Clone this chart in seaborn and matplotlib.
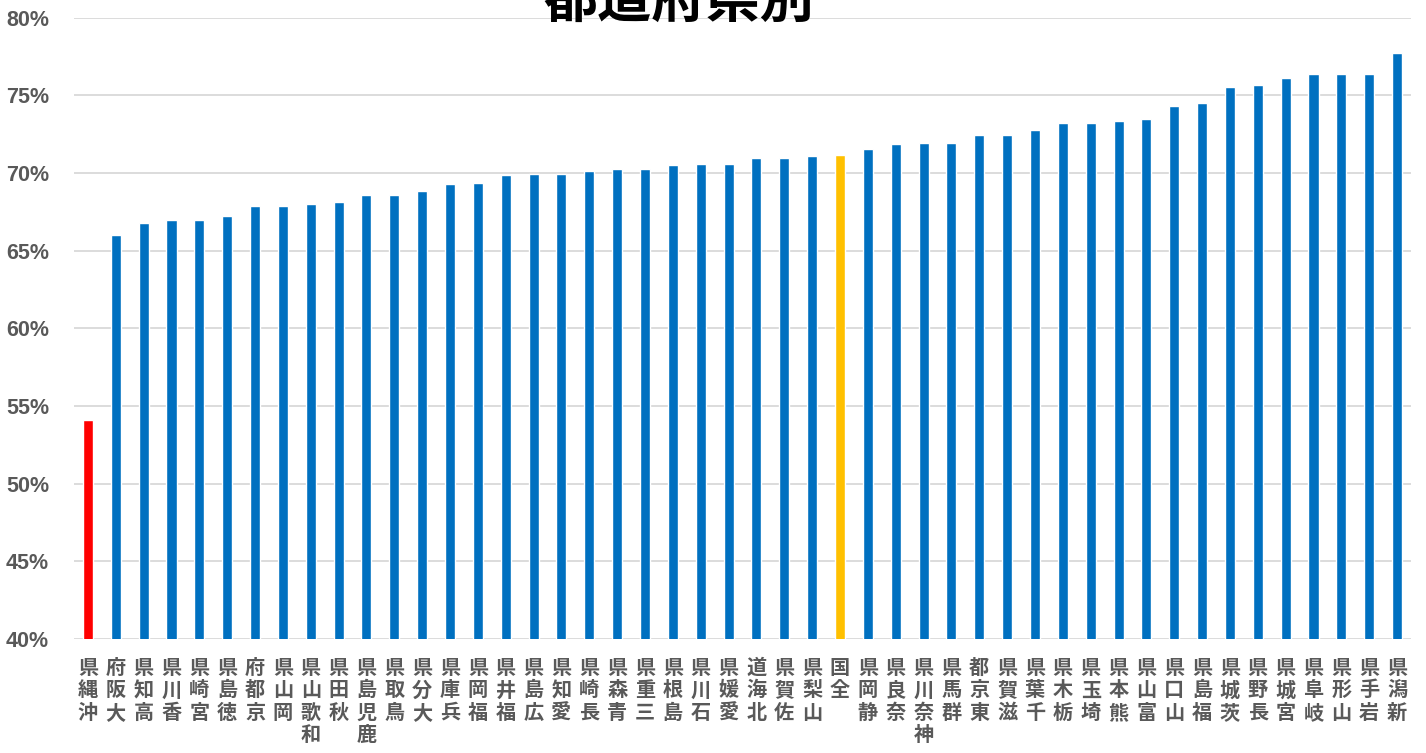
import matplotlib
matplotlib.use("Agg")
import matplotlib.pyplot as plt
import seaborn as sns
import pandas as pd
from matplotlib.ticker import FuncFormatter

names = ["沖縄県", "大阪府", "高知県", "香川県", "宮崎県", "徳島県", "京都府", "岡山県",
         "和歌山県", "秋田県", "鹿児島県", "鳥取県", "大分県", "兵庫県", "福岡県", "福井県",
         "広島県", "愛知県", "長崎県", "青森県", "三重県", "島根県", "石川県", "愛媛県",
         "北海道", "佐賀県", "山梨県", "全国", "静岡県", "奈良県", "神奈川県", "群馬県",
         "東京都", "滋賀県", "千葉県", "栃木県", "埼玉県", "熊本県", "富山県", "山口県",
         "福島県", "茨城県", "長野県", "宮城県", "岐阜県", "山形県", "岩手県", "新潟県"]
values = [54.1, 66.0, 66.8, 66.95, 66.97, 67.2, 67.85, 67.9,
          68.0, 68.1, 68.55, 68.55, 68.85, 69.27, 69.35, 69.87,
          69.94, 69.94, 70.13, 70.26, 70.26, 70.5, 70.58, 70.58,
          70.97, 70.97, 71.1, 71.16, 71.55, 71.87, 71.95, 71.93,
          72.45, 72.45, 72.77, 73.2, 73.2, 73.35, 73.48, 74.31,
          74.5, 75.53, 75.66, 76.11, 76.37, 76.37, 76.37, 77.72]
groups = ["最低"] + ["県"] * 26 + ["全国"] + ["県"] * 20
palette = {"最低": "#FF0000", "県": "#0070C0", "全国": "#FFC000"}
title = "都道府県別"
yticks = [40, 45, 50, 55, 60, 65, 70, 75, 80]

sns.set_theme(style="white")
plt.rcParams["font.family"] = ["Noto Sans CJK JP", "DejaVu Sans"]

df = pd.DataFrame({"name": names, "value": values, "group": groups})

W, H = 1426, 753
fig = plt.figure(figsize=(W / 100, H / 100), dpi=100)
left, right, bottom, top = 74, 1411, 639, 17.5
ax = fig.add_axes([left / W, (H - bottom) / H, (right - left) / W, (bottom - top) / H])

sns.barplot(data=df, x="name", y="value", hue="group", palette=palette,
            width=0.36, dodge=False, legend=False, ax=ax, saturation=1)

ax.set_ylim(40, 80)
ax.set_xlim(-0.5, len(names) - 0.5)
ax.set_yticks(yticks)
ax.yaxis.set_major_formatter(FuncFormatter(lambda v, p: f"{v:.0f}%"))
ax.grid(axis="y", color="#D9D9D9", linewidth=1.3)
ax.set_axisbelow(True)
for s in ax.spines.values():
    s.set_visible(False)
ax.set_xlabel("")
ax.set_ylabel("")
ax.tick_params(axis="both", length=0)
ax.tick_params(axis="y", pad=18)
for lab in ax.get_yticklabels():
    lab.set_fontfamily(["Liberation Sans", "DejaVu Sans"])
    lab.set_fontsize(15.5)
    lab.set_color("#595959")
    lab.set_fontweight("bold")

ax.set_xticks(range(len(names)))
ax.set_xticklabels(["\n".join(reversed(n)) for n in names], fontsize=14.5,
                   fontweight="bold", color="#595959", linespacing=1.08, va="top")
ax.tick_params(axis="x", pad=13)

fig.text(679 / W, (H - 1) / H, title, ha="center", va="center",
         fontsize=39, fontweight="bold", color="black")

fig.savefig("out.png", dpi=100)
